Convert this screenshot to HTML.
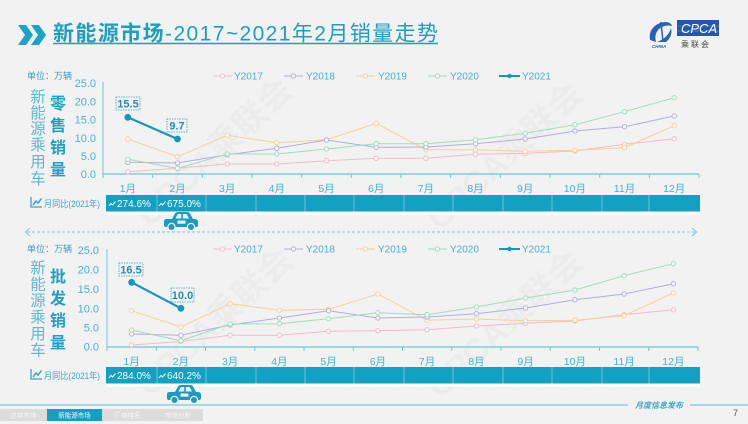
<!DOCTYPE html>
<html><head><meta charset="utf-8">
<style>
html,body{margin:0;padding:0;background:#f2f2f2;}
svg{display:block;}
text{font-family:"Liberation Sans","Noto Sans CJK SC",sans-serif;}
</style></head>
<body>
<svg width="748" height="424" viewBox="0 0 748 424" xmlns="http://www.w3.org/2000/svg">
<defs>
<marker id="mp" markerWidth="6" markerHeight="6" refX="3" refY="3" markerUnits="userSpaceOnUse"><circle cx="3" cy="3" r="2.2" fill="#f6f6f6" stroke="#f3bcc8" stroke-width="0.9"/></marker>
<marker id="mu" markerWidth="6" markerHeight="6" refX="3" refY="3" markerUnits="userSpaceOnUse"><circle cx="3" cy="3" r="2.2" fill="#f6f6f6" stroke="#aeaee2" stroke-width="0.9"/></marker>
<marker id="mo" markerWidth="6" markerHeight="6" refX="3" refY="3" markerUnits="userSpaceOnUse"><circle cx="3" cy="3" r="2.2" fill="#f6f6f6" stroke="#fbcf95" stroke-width="0.9"/></marker>
<marker id="mg" markerWidth="6" markerHeight="6" refX="3" refY="3" markerUnits="userSpaceOnUse"><circle cx="3" cy="3" r="2.2" fill="#f6f6f6" stroke="#a2dcba" stroke-width="0.9"/></marker>
<marker id="mb" markerWidth="8" markerHeight="8" refX="4" refY="4" markerUnits="userSpaceOnUse"><circle cx="4" cy="4" r="3.4" fill="#1596bd"/></marker>
<g id="car">
 <path d="M1,13 L1,9 Q1,7 4,7 L9,7 L12,1.5 Q13,0 15,0 L24,0 Q26,0 27,1.5 L30,7 L32,7 Q35,7 35,10 L35,13 Q35,15 33,15 L3,15 Q1,15 1,13 Z" fill="#1a9cc2"/>
 <polygon points="12.5,6.5 14.8,2 18.2,2 18.2,6.5" fill="#f2f2f2"/>
 <polygon points="19.8,2 23.6,2 26,6.5 19.8,6.5" fill="#f2f2f2"/>
 <rect x="14.5" y="8.5" width="8" height="3.2" fill="#f2f2f2"/>
 <circle cx="8.5" cy="15" r="3.6" fill="#1a9cc2" stroke="#f2f2f2" stroke-width="1.2"/>
 <circle cx="28" cy="15" r="3.6" fill="#1a9cc2" stroke="#f2f2f2" stroke-width="1.2"/>
</g>
<g id="trend"><polyline points="0,5 2,2.5 3.6,4 6.5,0.5" fill="none" stroke="#fff" stroke-width="1"/></g>
<g id="chartico"><polyline points="0,0 0,10 11,10" fill="none" stroke="#3aa5c8" stroke-width="1.3"/><polyline points="2,8 5,4 7,6 10.5,1.5" fill="none" stroke="#3aa5c8" stroke-width="1.5"/></g>
</defs>

<rect width="748" height="424" fill="#f2f2f2"/>

<!-- watermarks -->
<g fill="#000" fill-opacity="0.022" font-weight="bold" font-size="34">
<text transform="translate(150,228) rotate(-43)">CPCA乘联会</text>
<text transform="translate(440,232) rotate(-43)">CPCA乘联会</text>
<text transform="translate(150,398) rotate(-43)">CPCA乘联会</text>
<text transform="translate(440,400) rotate(-43)">CPCA乘联会</text>
</g>

<!-- title -->
<polygon points="18,25 26,25 33,35 26,45 18,45 25,35" fill="#1aa3c6"/>
<polygon points="31,25 39,25 46,35 39,45 31,45 38,35" fill="#1aa3c6"/>
<text x="53" y="40.5" font-size="21" fill="#1a9fc2" textLength="385" lengthAdjust="spacing"><tspan font-weight="bold">新能源市场</tspan>-2017~2021年2月销量走势</text>
<line x1="53" y1="43.5" x2="438" y2="43.5" stroke="#1a9fc2" stroke-width="1.5"/>

<!-- logo -->
<path d="M650,40 Q648,28 660,23 Q670,20 672,26 Q664,24 658,30 Q654,35 656,42 Z" fill="#2a62b8"/>
<path d="M657,42 Q668,38 671,28 Q673,36 666,42 Z" fill="#2a62b8"/>
<path d="M661,22 L663,42" stroke="#2a62b8" stroke-width="1.5"/>
<text x="652" y="48" font-size="4.5" fill="#2a62b8" font-style="italic" font-weight="bold">CHINA</text>
<rect x="677" y="20" width="42" height="16" fill="#2257b0"/>
<line x1="677" y1="26" x2="719" y2="26" stroke="#6f94d4" stroke-width="0.5"/>
<line x1="677" y1="31" x2="719" y2="31" stroke="#6f94d4" stroke-width="0.5"/>
<text x="681" y="33" font-size="13" fill="#fff" font-style="italic">CPCA</text>
<text x="681" y="47" font-size="8" fill="#444" letter-spacing="2">乘联会</text>

<!-- ============ TOP CHART ============ -->
<text x="27" y="79" font-size="9" fill="#3a9fc4">单位：万辆</text>
<g font-size="15.5" fill="#5ab9d8" text-anchor="middle">
<text x="38" y="102">新</text><text x="38" y="118">能</text><text x="38" y="134">源</text><text x="38" y="150">乘</text><text x="38" y="167">用</text><text x="38" y="184">车</text>
</g>
<g font-size="16" fill="#1f9fc4" font-weight="bold" text-anchor="middle">
<text x="58" y="109">零</text><text x="58" y="131">售</text><text x="58" y="153">销</text><text x="58" y="175">量</text>
</g>
<g font-size="11" fill="#45b2d2" text-anchor="end">
<text x="96" y="87">25.0</text><text x="96" y="105.5">20.0</text><text x="96" y="123.5">15.0</text><text x="96" y="142">10.0</text><text x="96" y="160">5.0</text><text x="96" y="178">0.0</text>
</g>
<line x1="103" y1="82" x2="103" y2="174" stroke="#6cc5dc" stroke-width="1"/>
<line x1="103" y1="174" x2="699" y2="174" stroke="#6cc5dc" stroke-width="1.3"/>
<g stroke="#6cc5dc" stroke-width="1">
<line x1="103" y1="174" x2="103" y2="178"/><line x1="152.7" y1="174" x2="152.7" y2="178"/><line x1="202.3" y1="174" x2="202.3" y2="178"/><line x1="252" y1="174" x2="252" y2="178"/><line x1="301.7" y1="174" x2="301.7" y2="178"/><line x1="351.3" y1="174" x2="351.3" y2="178"/><line x1="401" y1="174" x2="401" y2="178"/><line x1="450.7" y1="174" x2="450.7" y2="178"/><line x1="500.3" y1="174" x2="500.3" y2="178"/><line x1="550" y1="174" x2="550" y2="178"/><line x1="599.7" y1="174" x2="599.7" y2="178"/><line x1="649.3" y1="174" x2="649.3" y2="178"/><line x1="699" y1="174" x2="699" y2="178"/>
</g>
<g font-size="10.5" fill="#45b2d2" text-anchor="middle">
<text x="127.8" y="192">1月</text><text x="177.5" y="192">2月</text><text x="227.2" y="192">3月</text><text x="276.8" y="192">4月</text><text x="326.5" y="192">5月</text><text x="376.2" y="192">6月</text><text x="425.9" y="192">7月</text><text x="475.5" y="192">8月</text><text x="525.2" y="192">9月</text><text x="574.9" y="192">10月</text><text x="624.5" y="192">11月</text><text x="674.2" y="192">12月</text>
</g>
<!-- legend top -->
<g font-size="10" fill="#45b2d2">
<line x1="213" y1="76" x2="232" y2="76" stroke="#f3bcc8"/><circle cx="222.5" cy="76" r="2.2" fill="#f6f6f6" stroke="#f3bcc8" stroke-width="0.9"/><text x="234" y="79.5">Y2017</text>
<line x1="284" y1="76" x2="303" y2="76" stroke="#aeaee2"/><circle cx="293.5" cy="76" r="2.2" fill="#f6f6f6" stroke="#aeaee2" stroke-width="0.9"/><text x="306" y="79.5">Y2018</text>
<line x1="356" y1="76" x2="375" y2="76" stroke="#fbcf95"/><circle cx="365.5" cy="76" r="2.2" fill="#f6f6f6" stroke="#fbcf95" stroke-width="0.9"/><text x="378" y="79.5">Y2019</text>
<line x1="428" y1="76" x2="447" y2="76" stroke="#a2dcba"/><circle cx="437.5" cy="76" r="2.2" fill="#f6f6f6" stroke="#a2dcba" stroke-width="0.9"/><text x="450" y="79.5">Y2020</text>
<line x1="499" y1="76" x2="520" y2="76" stroke="#1596bd" stroke-width="2"/><circle cx="509.5" cy="76" r="2.2" fill="#1596bd"/><text x="522" y="79.5">Y2021</text>
</g>
<!-- series top -->
<g fill="none" stroke-width="1">
<polyline stroke="#f3bcc8" marker-start="url(#mp)" marker-mid="url(#mp)" marker-end="url(#mp)" points="127.8,171.7 177.5,168.2 227.2,164 276.8,164 326.5,160.7 376.2,158.3 425.9,158.3 475.5,154.3 525.2,153.3 574.9,151 624.5,144.3 674.2,138.7"/>
<polyline stroke="#fbcf95" marker-start="url(#mo)" marker-mid="url(#mo)" marker-end="url(#mo)" points="127.8,139 177.5,156.7 227.2,135.3 276.8,142.7 326.5,139.7 376.2,123.3 425.9,149.7 475.5,149.7 525.2,151.3 574.9,150.3 624.5,147.7 674.2,125.7"/>
<polyline stroke="#aeaee2" marker-start="url(#mu)" marker-mid="url(#mu)" marker-end="url(#mu)" points="127.8,162.3 177.5,163 227.2,154.7 276.8,148.3 326.5,140 376.2,147.3 425.9,147 475.5,143.7 525.2,139 574.9,131 624.5,126.7 674.2,116"/>
<polyline stroke="#a2dcba" marker-start="url(#mg)" marker-mid="url(#mg)" marker-end="url(#mg)" points="127.8,159.3 177.5,168.3 227.2,154 276.8,154 326.5,149 376.2,143.7 425.9,143.7 475.5,139.7 525.2,133.3 574.9,124.7 624.5,111.7 674.2,97.7"/>
<polyline stroke="#1596bd" stroke-width="2.2" marker-start="url(#mb)" marker-end="url(#mb)" points="127.8,117.3 177.5,139"/>
</g>
<rect x="116" y="97" width="24" height="13" fill="none" stroke="#3aa5c8" stroke-width="0.8" stroke-dasharray="1.5,1"/>
<text x="128" y="107.5" font-size="11" font-weight="bold" fill="#1f8fb5" text-anchor="middle">15.5</text>
<rect x="167" y="119" width="20" height="13" fill="none" stroke="#3aa5c8" stroke-width="0.8" stroke-dasharray="1.5,1"/>
<text x="177" y="129.5" font-size="11" font-weight="bold" fill="#1f8fb5" text-anchor="middle">9.7</text>

<!-- top table -->
<use href="#chartico" x="31" y="197"/>
<text x="44" y="207" font-size="9" fill="#3aa5c8" textLength="56" lengthAdjust="spacingAndGlyphs">月同比(2021年)</text>
<rect x="106" y="211" width="594" height="3.5" fill="#ffffff"/>
<rect x="106" y="195" width="594" height="16.5" fill="#12a0c3"/>
<g stroke="#7fcfe2" stroke-width="0.8">
<line x1="157" y1="195" x2="157" y2="211.5"/><line x1="206" y1="195" x2="206" y2="211.5"/><line x1="256" y1="195" x2="256" y2="211.5"/><line x1="305" y1="195" x2="305" y2="211.5"/><line x1="354" y1="195" x2="354" y2="211.5"/><line x1="404" y1="195" x2="404" y2="211.5"/><line x1="453" y1="195" x2="453" y2="211.5"/><line x1="503" y1="195" x2="503" y2="211.5"/><line x1="552" y1="195" x2="552" y2="211.5"/><line x1="602" y1="195" x2="602" y2="211.5"/><line x1="649" y1="195" x2="649" y2="211.5"/>
</g>
<use href="#trend" x="109" y="201"/>
<text x="117" y="207" font-size="10" fill="#fff">274.6%</text>
<use href="#trend" x="159" y="201"/>
<text x="167" y="207" font-size="10" fill="#fff">675.0%</text>
<use href="#car" x="163" y="212"/>

<!-- dashed divider -->
<line x1="27" y1="232" x2="695" y2="232" stroke="#6ccbe0" stroke-width="1" stroke-dasharray="3,2"/>
<polyline points="30,228 25.5,232 30,236" fill="none" stroke="#6ccbe0" stroke-width="1"/>
<polyline points="692,228 696.5,232 692,236" fill="none" stroke="#6ccbe0" stroke-width="1"/>

<!-- ============ BOTTOM CHART ============ -->
<text x="27" y="252" font-size="9" fill="#3a9fc4">单位：万辆</text>
<g font-size="15.5" fill="#5ab9d8" text-anchor="middle">
<text x="38" y="273">新</text><text x="38" y="289.5">能</text><text x="38" y="306">源</text><text x="38" y="322.5">乘</text><text x="38" y="339">用</text><text x="38" y="355.5">车</text>
</g>
<g font-size="16" fill="#1f9fc4" font-weight="bold" text-anchor="middle">
<text x="58" y="282">批</text><text x="58" y="304">发</text><text x="58" y="326">销</text><text x="58" y="348">量</text>
</g>
<g font-size="11" fill="#45b2d2" text-anchor="end">
<text x="99" y="254">25.0</text><text x="99" y="273.3">20.0</text><text x="99" y="293">15.0</text><text x="99" y="312.3">10.0</text><text x="99" y="331.3">5.0</text><text x="99" y="350.7">0.0</text>
</g>
<line x1="107" y1="249" x2="107" y2="347" stroke="#6cc5dc" stroke-width="1"/>
<line x1="107" y1="347" x2="698" y2="347" stroke="#6cc5dc" stroke-width="1.3"/>
<g stroke="#6cc5dc" stroke-width="1">
<line x1="107" y1="347" x2="107" y2="351"/><line x1="156.3" y1="347" x2="156.3" y2="351"/><line x1="205.5" y1="347" x2="205.5" y2="351"/><line x1="254.8" y1="347" x2="254.8" y2="351"/><line x1="304" y1="347" x2="304" y2="351"/><line x1="353.3" y1="347" x2="353.3" y2="351"/><line x1="402.5" y1="347" x2="402.5" y2="351"/><line x1="451.8" y1="347" x2="451.8" y2="351"/><line x1="501" y1="347" x2="501" y2="351"/><line x1="550.3" y1="347" x2="550.3" y2="351"/><line x1="599.5" y1="347" x2="599.5" y2="351"/><line x1="648.8" y1="347" x2="648.8" y2="351"/><line x1="698" y1="347" x2="698" y2="351"/>
</g>
<g font-size="10.5" fill="#45b2d2" text-anchor="middle">
<text x="131.6" y="365">1月</text><text x="180.9" y="365">2月</text><text x="230.1" y="365">3月</text><text x="279.4" y="365">4月</text><text x="328.6" y="365">5月</text><text x="377.9" y="365">6月</text><text x="427.1" y="365">7月</text><text x="476.4" y="365">8月</text><text x="525.6" y="365">9月</text><text x="574.9" y="365">10月</text><text x="624.1" y="365">11月</text><text x="673.4" y="365">12月</text>
</g>
<!-- legend bottom -->
<g font-size="10" fill="#45b2d2">
<line x1="213" y1="249" x2="232" y2="249" stroke="#f3bcc8"/><circle cx="222.5" cy="249" r="2.2" fill="#f6f6f6" stroke="#f3bcc8" stroke-width="0.9"/><text x="234" y="252.5">Y2017</text>
<line x1="284" y1="249" x2="303" y2="249" stroke="#aeaee2"/><circle cx="293.5" cy="249" r="2.2" fill="#f6f6f6" stroke="#aeaee2" stroke-width="0.9"/><text x="306" y="252.5">Y2018</text>
<line x1="356" y1="249" x2="375" y2="249" stroke="#fbcf95"/><circle cx="365.5" cy="249" r="2.2" fill="#f6f6f6" stroke="#fbcf95" stroke-width="0.9"/><text x="378" y="252.5">Y2019</text>
<line x1="428" y1="249" x2="447" y2="249" stroke="#a2dcba"/><circle cx="437.5" cy="249" r="2.2" fill="#f6f6f6" stroke="#a2dcba" stroke-width="0.9"/><text x="450" y="252.5">Y2020</text>
<line x1="499" y1="249" x2="520" y2="249" stroke="#1596bd" stroke-width="2"/><circle cx="509.5" cy="249" r="2.2" fill="#1596bd"/><text x="522" y="252.5">Y2021</text>
</g>
<!-- series bottom -->
<g fill="none" stroke-width="1">
<polyline stroke="#f3bcc8" marker-start="url(#mp)" marker-mid="url(#mp)" marker-end="url(#mp)" points="131.6,345 180.9,341.5 230.1,335.3 279.4,335.3 328.6,331.3 377.9,330.7 427.1,329.7 476.4,326 525.6,323.3 574.9,321 624.1,314.7 673.4,309.7"/>
<polyline stroke="#fbcf95" marker-start="url(#mo)" marker-mid="url(#mo)" marker-end="url(#mo)" points="131.6,310.7 180.9,327 230.1,303.7 279.4,310.3 328.6,309.3 377.9,294 427.1,320.3 476.4,319 525.6,320.7 574.9,320.3 624.1,315.7 673.4,293"/>
<polyline stroke="#aeaee2" marker-start="url(#mu)" marker-mid="url(#mu)" marker-end="url(#mu)" points="131.6,334 180.9,335.3 230.1,325 279.4,318 328.6,310.7 377.9,318 427.1,317 476.4,313.7 525.6,308 574.9,299.7 624.1,294 673.4,283.7"/>
<polyline stroke="#a2dcba" marker-start="url(#mg)" marker-mid="url(#mg)" marker-end="url(#mg)" points="131.6,330 180.9,340.7 230.1,324 279.4,323.7 328.6,318.7 377.9,312.7 427.1,314.7 476.4,307 525.6,298 574.9,290 624.1,275.7 673.4,263.7"/>
<polyline stroke="#1596bd" stroke-width="2.2" marker-start="url(#mb)" marker-end="url(#mb)" points="131.6,282.3 180.9,308.3"/>
</g>
<rect x="119" y="263" width="24" height="13" fill="none" stroke="#3aa5c8" stroke-width="0.8" stroke-dasharray="1.5,1"/>
<text x="131" y="273.5" font-size="11" font-weight="bold" fill="#1f8fb5" text-anchor="middle">16.5</text>
<rect x="171" y="288" width="23" height="14" fill="none" stroke="#3aa5c8" stroke-width="0.8" stroke-dasharray="1.5,1"/>
<text x="182.5" y="299" font-size="11" font-weight="bold" fill="#1f8fb5" text-anchor="middle">10.0</text>

<!-- bottom table -->
<use href="#chartico" x="31" y="369"/>
<text x="44" y="379" font-size="9" fill="#3aa5c8" textLength="56" lengthAdjust="spacingAndGlyphs">月同比(2021年)</text>
<rect x="106" y="383" width="594" height="3.5" fill="#ffffff"/>
<rect x="106" y="367" width="594" height="16.5" fill="#12a0c3"/>
<g stroke="#7fcfe2" stroke-width="0.8">
<line x1="157" y1="367" x2="157" y2="383.5"/><line x1="206" y1="367" x2="206" y2="383.5"/><line x1="256" y1="367" x2="256" y2="383.5"/><line x1="305" y1="367" x2="305" y2="383.5"/><line x1="354" y1="367" x2="354" y2="383.5"/><line x1="404" y1="367" x2="404" y2="383.5"/><line x1="453" y1="367" x2="453" y2="383.5"/><line x1="503" y1="367" x2="503" y2="383.5"/><line x1="552" y1="367" x2="552" y2="383.5"/><line x1="602" y1="367" x2="602" y2="383.5"/><line x1="649" y1="367" x2="649" y2="383.5"/>
</g>
<use href="#trend" x="109" y="373"/>
<text x="117" y="379" font-size="10" fill="#fff">284.0%</text>
<use href="#trend" x="159" y="373"/>
<text x="167" y="379" font-size="10" fill="#fff">640.2%</text>
<use href="#car" x="166" y="385"/>

<!-- footer -->
<line x1="0" y1="405" x2="628" y2="405" stroke="#86d2e6" stroke-width="1.5"/>
<line x1="690" y1="405" x2="748" y2="405" stroke="#86d2e6" stroke-width="1.5"/>
<text x="635" y="408" font-size="8" fill="#3aa5c8" font-style="italic" font-weight="bold">月度信息发布</text>
<rect x="0" y="409" width="47" height="12" fill="#dcdcdc"/>
<rect x="47" y="409" width="55" height="12" fill="#12a0c3"/>
<rect x="102" y="409" width="51" height="12" fill="#dcdcdc"/>
<rect x="153" y="409" width="50" height="12" fill="#dcdcdc"/>
<g font-size="6.5" fill="#f7f7f7" text-anchor="middle">
<text x="23.5" y="417.5">总体市场</text><text x="74.5" y="417.5">新能源市场</text><text x="127.5" y="417.5">厂商排名</text><text x="178" y="417.5">市场分析</text>
</g>
<text x="733" y="416" font-size="9" fill="#555">7</text>
</svg>
</body></html>
